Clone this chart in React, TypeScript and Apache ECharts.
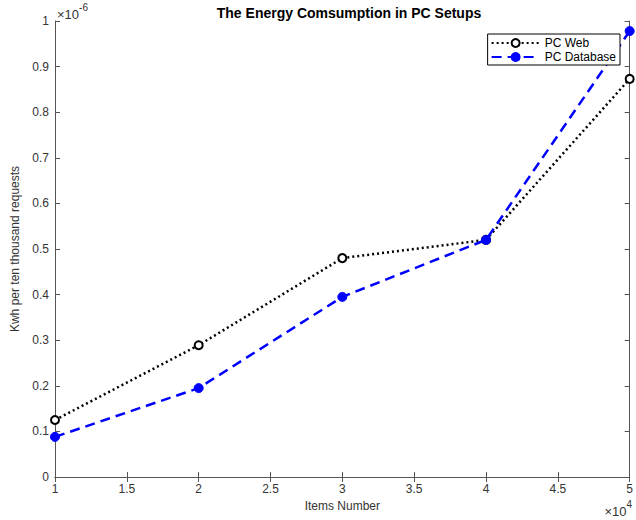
import React, { useEffect, useRef } from "react";
import * as echarts from "echarts";

const items = [10000, 20000, 30000, 40000, 50000];
const pcWeb = [0.125, 0.289, 0.48, 0.52, 0.873];
const pcDatabase = [0.088, 0.195, 0.395, 0.52, 0.978];
const xTicks = [1, 1.5, 2, 2.5, 3, 3.5, 4, 4.5, 5];
const yTicks = [0, 0.1, 0.2, 0.3, 0.4, 0.5, 0.6, 0.7, 0.8, 0.9, 1];

const FONT = "'Liberation Sans', Arial, Helvetica, sans-serif";
const AXIS = "#555";

export default function App() {
  const ref = useRef<HTMLDivElement>(null);
  useEffect(() => {
    if (!ref.current) return;
    const chart = echarts.init(ref.current, undefined, { renderer: "svg" });
    const xBase = {
      type: "value",
      min: xTicks[0] * 10000,
      max: xTicks[xTicks.length - 1] * 10000,
      interval: 5000,
      axisLine: { show: true, lineStyle: { color: AXIS, width: 1 } },
      axisTick: { show: true, inside: true, length: 5, lineStyle: { color: AXIS } },
      splitLine: { show: false },
    };
    const yBase = {
      type: "value",
      min: yTicks[0],
      max: yTicks[yTicks.length - 1],
      interval: 0.1,
      axisLine: { show: true, lineStyle: { color: AXIS, width: 1 } },
      axisTick: { show: true, inside: true, length: 5, lineStyle: { color: AXIS } },
      splitLine: { show: false },
    };
    const sup = {
      a: { fontSize: 13, fill: "#333", fontFamily: FONT, verticalAlign: "bottom", padding: [6, 0, 0, 0] },
      b: { fontSize: 10, fill: "#333", fontFamily: FONT, verticalAlign: "top" },
    };
    chart.setOption({
      animation: false,
      backgroundColor: "#fff",
      textStyle: { fontFamily: FONT },
      title: {
        text: "The Energy Comsumption in PC Setups",
        left: 344,
        textAlign: "center",
        top: 1,
        textStyle: { fontSize: 14, fontWeight: "bold", color: "#000", fontFamily: FONT },
      },
      grid: { left: 55, right: 3, top: 21, bottom: 43, containLabel: false },
      xAxis: [
        {
          ...xBase,
          position: "bottom",
          name: "Items Number",
          nameLocation: "middle",
          nameGap: 22,
          nameTextStyle: { fontSize: 12, color: "#333", fontFamily: FONT },
          axisLabel: {
            show: true,
            fontSize: 12,
            color: "#333",
            margin: 6,
            formatter: (v: number) => String(Math.round((v / 10000) * 10) / 10),
          },
        },
        { ...xBase, position: "top", axisLabel: { show: false } },
      ],
      yAxis: [
        {
          ...yBase,
          position: "left",
          name: "Kwh per ten thousand requests",
          nameLocation: "middle",
          nameGap: 32,
          nameTextStyle: { fontSize: 12, color: "#333", fontFamily: FONT },
          axisLabel: {
            show: true,
            fontSize: 12,
            color: "#333",
            margin: 6,
            formatter: (v: number) => String(Math.round(v * 10) / 10),
          },
        },
        { ...yBase, position: "right", axisLabel: { show: false } },
      ],
      legend: {
        orient: "vertical",
        right: 16,
        top: 34,
        backgroundColor: "#fff",
        borderColor: "#000",
        borderWidth: 1,
        borderRadius: 0,
        padding: [3, 4, 2, 3],
        itemGap: 2,
        itemWidth: 48,
        itemHeight: 10,
        textStyle: { fontSize: 12, color: "#000", fontFamily: FONT },
        data: ["PC Web", "PC Database"],
      },
      graphic: [
        {
          type: "text",
          left: 57,
          top: 2,
          style: { text: "{a|×10}{b|-6}", rich: sup },
        },
        {
          type: "text",
          right: 4,
          top: 499,
          style: { text: "{a|×10}{b|4}", rich: sup },
        },
      ],
      series: [
        {
          name: "PC Web",
          type: "line",
          xAxisIndex: 0,
          yAxisIndex: 0,
          data: items.map((x, i) => [x, pcWeb[i]]),
          symbol: "circle",
          symbolSize: 8,
          itemStyle: { color: "#fff", borderColor: "#000", borderWidth: 2 },
          lineStyle: { color: "#000", width: 2.5, type: [2, 3] },
          z: 2,
        },
        {
          name: "PC Database",
          type: "line",
          xAxisIndex: 0,
          yAxisIndex: 0,
          data: items.map((x, i) => [x, pcDatabase[i]]),
          symbol: "circle",
          symbolSize: 9,
          itemStyle: { color: "#0000ff", borderColor: "#0000ff", borderWidth: 1 },
          lineStyle: { color: "#0000ff", width: 2.5, type: [10, 6] },
          z: 3,
        },
      ],
    });
    return () => chart.dispose();
  }, []);
  return <div ref={ref} style={{ width: 636, height: 520, position: "absolute", left: 0, top: 0 }} />;
}
